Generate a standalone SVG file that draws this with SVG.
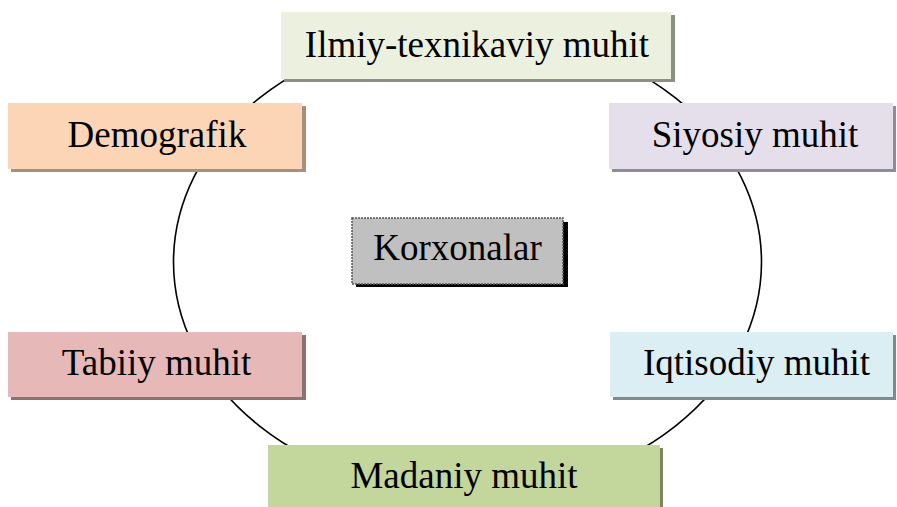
<svg xmlns="http://www.w3.org/2000/svg" width="897" height="507" viewBox="0 0 897 507">
<style>
text{font-family:"Liberation Serif","Times New Roman",serif;font-size:37px;fill:#000;text-anchor:middle}
.ring{fill:none;stroke:#000;stroke-width:1.6}
</style>
<rect width="897" height="507" fill="#fff"/>
<g id="connectors">
<ellipse class="ring" cx="467.5" cy="262" rx="294" ry="232"/>
</g>
<g id="ilmiy">
<rect x="284" y="15" width="391" height="67" fill="#8b917f"/>
<rect x="281" y="12" width="390" height="67" fill="#ebf1de"/>
<text x="477" y="57">Ilmiy-texnikaviy muhit</text>
</g>
<g id="demografik">
<rect x="11" y="106" width="295" height="66" fill="#a88f7b"/>
<rect x="8" y="103" width="294" height="66" fill="#fbd5b5"/>
<text x="157" y="147">Demografik</text>
</g>
<g id="siyosiy">
<rect x="612" y="106" width="284" height="66" fill="#8f8c93"/>
<rect x="609" y="103" width="284" height="66" fill="#e5dfec"/>
<text x="755" y="147">Siyosiy muhit</text>
</g>
<g id="korxonalar">
<rect x="356" y="222" width="212" height="65" fill="#000"/>
<rect x="352" y="218" width="211" height="66" fill="#c0c0c0" stroke="#555" stroke-width="1.5" stroke-dasharray="2 1"/>
<text x="457.5" y="260">Korxonalar</text>
</g>
<g id="tabiiy">
<rect x="11" y="335" width="295" height="65" fill="#8c7373"/>
<rect x="8" y="332" width="294" height="65" fill="#e6b9b8"/>
<text x="156.5" y="375">Tabiiy muhit</text>
</g>
<g id="iqtisodiy">
<rect x="613" y="335" width="283" height="65" fill="#7f8a8d"/>
<rect x="610" y="332" width="283" height="65" fill="#dbeef3"/>
<text x="756.5" y="375">Iqtisodiy muhit</text>
</g>
<g id="madaniy">
<rect x="271" y="448" width="392" height="70" fill="#7b8663"/>
<rect x="268" y="445" width="392" height="70" fill="#c3d69b"/>
<text x="464" y="488">Madaniy muhit</text>
</g>
</svg>
